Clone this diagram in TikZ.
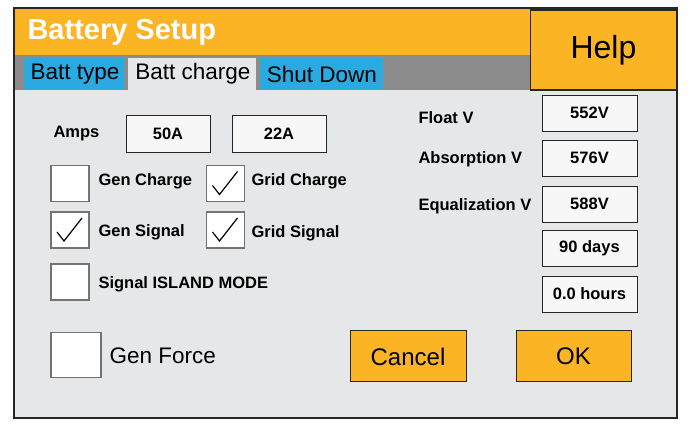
\documentclass[tikz,border=0pt]{standalone}
\usepackage{fontspec}
\setmainfont{Liberation Sans}
\begin{document}
\begin{tikzpicture}[x=1pt,y=-1pt,
 fld/.style={draw=black!85,line width=0.8pt,fill=white!60!black!8,font=\bfseries\fontsize{16.5}{18}\selectfont},
 lbl/.style={anchor=west,font=\bfseries\fontsize{16.5}{18}\selectfont},
 cb/.style={draw=black!55,line width=1.5pt,fill=white},
 btn/.style={draw=black!85,line width=1pt,fill=orange1,font=\fontsize{24}{26}\selectfont},
 tab/.style={font=\fontsize{22.5}{24}\selectfont,inner sep=0pt}]
\definecolor{orange1}{HTML}{FBB423}
\definecolor{blue1}{HTML}{29ABE2}
\definecolor{body}{HTML}{E6E7E8}
\useasboundingbox (0,0) rectangle (697,435);
\fill[white] (0,0) rectangle (697,435);
\fill[body] (14,90) rectangle (677,418);
\fill[orange1] (14,8) rectangle (530,55);
\fill[black!45] (14,55) rectangle (530,90);
\node[anchor=west,text=white,font=\bfseries\fontsize{29}{32}\selectfont] (title) at (24,32) {Battery Setup};
\node[btn,minimum width=146,minimum height=80,line width=1.5pt,font=\fontsize{32}{34}\selectfont] (help) at (603.5,50) {Help};
\fill[blue1] (24,58) rectangle (124,90);
\fill[body] (128,58) rectangle (256,90);
\fill[blue1] (260,58) rectangle (383,90);
\node[tab] (t1) at (75,74) {Batt type};
\node[tab] (t2) at (193,74) {Batt charge};
\node[tab] (t3) at (322,74) {Shut Down};
\draw[black!85,line width=1.5pt] (14,8) rectangle (677,418);
\node[lbl] (amps) at (50,134) {Amps};
\node[fld,minimum width=84,minimum height=37] (a50) at (168,133.5) {50A};
\node[fld,minimum width=94,minimum height=37] (a22) at (279,133.5) {22A};
\node[cb,minimum width=38,minimum height=36] (c1) at (70,183.5) {};
\node[cb,minimum width=38,minimum height=36] (c2) at (225.5,183.5) {};
\node[cb,minimum width=38,minimum height=36] (c3) at (70,230) {};
\node[cb,minimum width=38,minimum height=36] (c4) at (225.5,230) {};
\node[cb,minimum width=38,minimum height=36] (c5) at (70,282) {};
\node[cb,minimum width=50,minimum height=45] (c6) at (76,355) {};
\foreach \n in {c2,c3,c4}{\draw[line width=1.2pt] ([shift={(-13,2)}]\n.center) -- ([shift={(-6,11)}]\n.center) -- ([shift={(12,-12)}]\n.center);}
\node[lbl] (l1) at (95,181) {Gen Charge};
\node[lbl] (l2) at (248,181) {Grid Charge};
\node[lbl] (l3) at (95,232) {Gen Signal};
\node[lbl] (l4) at (248,233) {Grid Signal};
\node[lbl] (l5) at (95,284) {Signal ISLAND MODE};
\node[anchor=west,font=\fontsize{22.5}{24}\selectfont] (l6) at (106,356) {Gen Force};
\node[btn,minimum width=116,minimum height=51] (cancel) at (408,356.5) {Cancel};
\node[btn,minimum width=115,minimum height=51] (ok) at (573.5,356.5) {OK};
\node[lbl] (fv) at (415,118) {Float V};
\node[lbl] (av) at (415,159) {Absorption V};
\node[lbl] (ev) at (415,206) {Equalization V};
\node[fld,minimum width=95,minimum height=36] (v1) at (589.5,113) {552V};
\node[fld,minimum width=95,minimum height=36] (v2) at (589.5,158) {576V};
\node[fld,minimum width=95,minimum height=36] (v3) at (589.5,204) {588V};
\node[fld,minimum width=95,minimum height=36] (v4) at (589.5,248) {90 days};
\node[fld,minimum width=95,minimum height=36] (v5) at (589.5,294) {0.0 hours};
\end{tikzpicture}
\end{document}
